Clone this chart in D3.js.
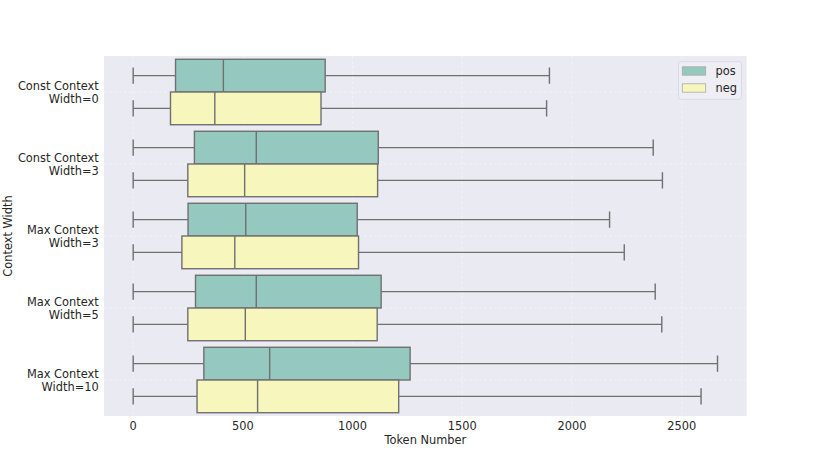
<!DOCTYPE html>
<html><head><meta charset="utf-8">
<script src="https://cdn.jsdelivr.net/npm/d3@7"></script>
<style>body{margin:0;background:#fff}svg{display:block;font-family:"DejaVu Sans",sans-serif}</style>
</head><body><svg id="c" width="830" height="467"></svg>
<script>
const categories = ["Const Context\nWidth=0","Const Context\nWidth=3","Max Context\nWidth=3","Max Context\nWidth=5","Max Context\nWidth=10"];
const series = ["pos","neg"];
const colors = ["#95c9bf","#f6f6bd"];
// [whiskerLow, Q1, median, Q3, whiskerHigh]
const posStats = [
  [0,193,411,875,1897],
  [0,279,561,1117,2370],
  [0,250,513,1021,2171],
  [0,284,561,1130,2379],
  [0,322,622,1262,2663]
];
const negStats = [
  [0,170,372,856,1884],
  [0,249,508,1114,2412],
  [0,222,463,1027,2238],
  [0,249,511,1112,2409],
  [0,291,567,1210,2588]
];
const xTicks = [0,500,1000,1500,2000,2500];

const svg = d3.select("#c");
const L=104, R=746.7, T=56, B=416;
const FS=11.4;
const x = d3.scaleLinear().domain([-133,2796]).range([L,R]);
const y = d3.scaleBand().domain(categories).range([T,B]).paddingInner(0).paddingOuter(0);
const sub = d3.scaleBand().domain(series).range([0,y.bandwidth()]).paddingOuter(0.1).paddingInner(0);
const line="#707070";

svg.append("rect").attr("x",L).attr("y",T).attr("width",R-L).attr("height",B-T).attr("fill","#eaeaf2");
// grid
const g=svg.append("g");
g.selectAll(".vx").data(xTicks).join("line").attr("x1",d=>x(d)).attr("x2",d=>x(d)).attr("y1",T).attr("y2",B)
 .attr("stroke","#f1f1f6").attr("stroke-width",1).attr("stroke-dasharray","3,2");
g.selectAll(".hy").data(categories).join("line").attr("x1",L).attr("x2",R).attr("y1",d=>y(d)+y.bandwidth()/2).attr("y2",d=>y(d)+y.bandwidth()/2)
 .attr("stroke","#f1f1f6").attr("stroke-width",1).attr("stroke-dasharray","3,2");

const all=[posStats,negStats];
categories.forEach((c,i)=>{
  series.forEach((s,j)=>{
    const st=all[j][i];
    const y0=y(c)+sub(s), h=sub.bandwidth(), cy=y0+h/2;
    const gg=svg.append("g");
    gg.append("line").attr("x1",x(st[0])).attr("x2",x(st[1])).attr("y1",cy).attr("y2",cy).attr("stroke",line).attr("stroke-width",1.4);
    gg.append("line").attr("x1",x(st[3])).attr("x2",x(st[4])).attr("y1",cy).attr("y2",cy).attr("stroke",line).attr("stroke-width",1.4);
    [st[0],st[4]].forEach(v=>gg.append("line").attr("x1",x(v)).attr("x2",x(v)).attr("y1",cy-h/4).attr("y2",cy+h/4).attr("stroke",line).attr("stroke-width",1.4));
    gg.append("rect").attr("x",x(st[1])).attr("y",y0).attr("width",x(st[3])-x(st[1])).attr("height",h)
      .attr("fill",colors[j]).attr("stroke",line).attr("stroke-width",1.4);
    gg.append("line").attr("x1",x(st[2])).attr("x2",x(st[2])).attr("y1",y0).attr("y2",y0+h).attr("stroke",line).attr("stroke-width",1.4);
  });
});

// x axis labels
svg.selectAll(".xt").data(xTicks).join("text").attr("x",d=>x(d)).attr("y",430).attr("text-anchor","middle")
 .attr("font-size",FS).attr("fill","#262626").text(d=>d);
svg.append("text").attr("x",(L+R)/2).attr("y",443.5).attr("text-anchor","middle").attr("font-size",FS).attr("fill","#262626").text("Token Number");
// y labels
categories.forEach(c=>{
  const lines=c.split("\n"); const cy=y(c)+y.bandwidth()/2;
  const t=svg.append("text").attr("text-anchor","end").attr("font-size",FS).attr("fill","#262626");
  lines.forEach((l,k)=>t.append("tspan").attr("x",98.7).attr("y",cy-6.5+k*13+4.2).text(l));
});
svg.append("text").attr("transform",`translate(12,${(T+B)/2}) rotate(-90)`).attr("text-anchor","middle").attr("font-size",FS).attr("fill","#262626").text("Context Width");

// legend
const lg=svg.append("g");
lg.append("rect").attr("x",678.5).attr("y",61.7).attr("width",63).attr("height",37.6).attr("rx",2.5)
  .attr("fill","#eeeef4").attr("stroke","#d6d6de").attr("stroke-width",0.8);
series.forEach((s,j)=>{
  lg.append("rect").attr("x",682.3).attr("y",66.8+j*17).attr("width",23.4).attr("height",8.4).attr("fill",colors[j]).attr("stroke","#aaaaaa").attr("stroke-width",0.8);
  lg.append("text").attr("x",715.5).attr("y",75+j*17).attr("font-size",FS).attr("fill","#262626").text(s);
});
</script></body></html>
